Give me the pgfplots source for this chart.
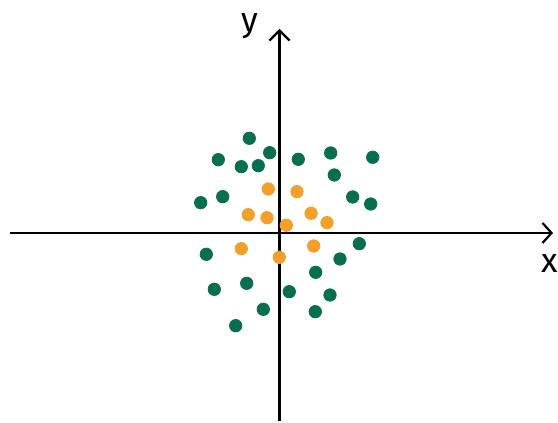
\documentclass[border=0pt]{standalone}
\usepackage{pgfplots}
\pgfplotsset{compat=1.18}
\usepackage{fontspec}
\setmainfont{Fira Sans}
\usetikzlibrary{arrows.meta}
\definecolor{dotgreen}{RGB}{8,110,80}
\definecolor{dotorange}{RGB}{242,160,42}
\begin{document}
\begin{tikzpicture}
\begin{axis}[
  scale only axis, width=279pt, height=210.5pt,
  xmin=-279.5, xmax=278.5, ymin=-188, ymax=233,
  axis lines=none, clip=false,
]
\draw[draw=none] (rel axis cs:0,0) rectangle (rel axis cs:1,1);
\draw[line width=1.1pt, -{Straight Barb[length=4.5pt,width=10pt,line width=1.1pt]}] (axis cs:-269.5,0) -- (axis cs:273.5,0);
\draw[line width=1.1pt, -{Straight Barb[length=5pt,width=10pt,line width=1.1pt]}] (axis cs:0,-188) -- (axis cs:0,204);
\node[font=\fontsize{17}{20}\selectfont] at (axis cs:-29.5,207) {y};
\node[font=\fontsize{17}{20}\selectfont, anchor=east, inner sep=0pt] at (axis cs:278.5,-31) {x};
\addplot[only marks, mark=*, mark size=3.1pt, color=dotgreen] coordinates {
(-30.2,94.7) (-61.2,73.3) (-38.2,66.3) (-21.2,67.3) (-9.8,80.3) (18.8,73.7)
(51.2,80) (93.2,75.7) (54.8,58) (-56.8,36.3) (-78.8,30.3) (73.2,36) (91.2,29)
(-73.2,-21.3) (79.8,-10.7) (60.5,-26) (36.2,-39.3) (-65.2,-56.3) (-32.8,-50.3)
(9.8,-58.7) (50.5,-62) (-16.2,-76.3) (35.8,-78.7) (-43.8,-92.7)
};
\addplot[only marks, mark=*, mark size=3.1pt, color=dotorange] coordinates {
(-11.2,44) (17.5,41.3) (-31.2,18.3) (-12.5,15.3) (6.8,7.7) (31.5,19.7)
(47.5,10.3) (-38.2,-15.7) (-0.2,-24.3) (34.2,-13)
};
\end{axis}
\end{tikzpicture}
\end{document}
